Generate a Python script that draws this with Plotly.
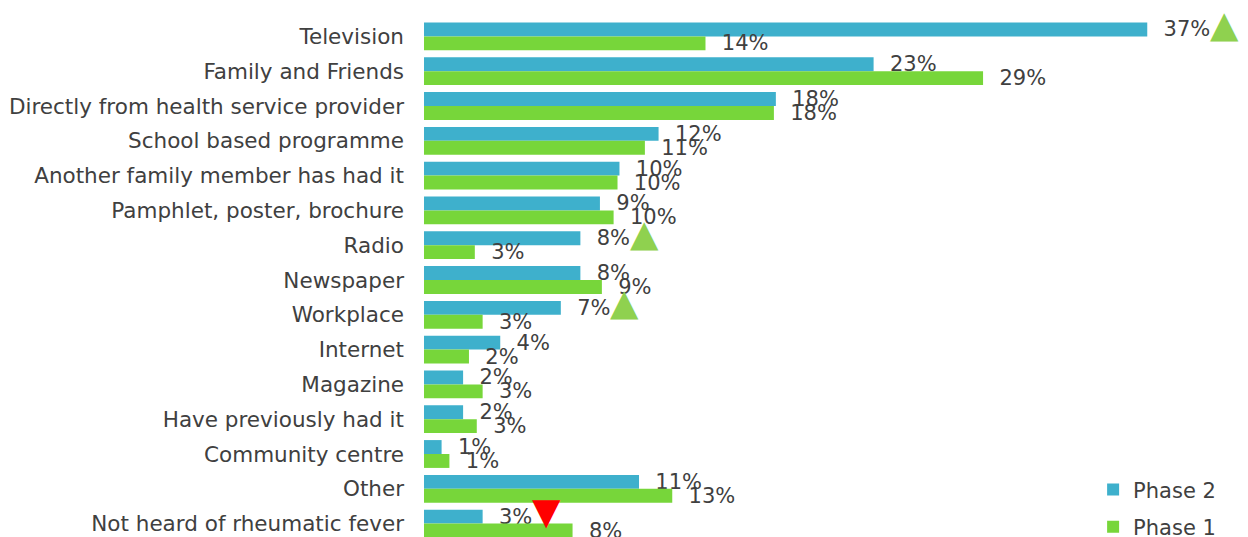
import plotly.graph_objects as go

# Sources of information about rheumatic fever, share of respondents (%)
categories = [
    "Television",
    "Family and Friends",
    "Directly from health service provider",
    "School based programme",
    "Another family member has had it",
    "Pamphlet, poster, brochure",
    "Radio",
    "Newspaper",
    "Workplace",
    "Internet",
    "Magazine",
    "Have previously had it",
    "Community centre",
    "Other",
    "Not heard of rheumatic fever",
]
phase2 = [37.0, 23.0, 18.0, 12.0, 10.0, 9.0, 8.0, 8.0, 7.0, 3.9, 2.0, 2.0, 0.9, 11.0, 3.0]
phase1 = [14.4, 28.6, 17.9, 11.3, 9.9, 9.7, 2.6, 9.1, 3.0, 2.3, 3.0, 2.7, 1.3, 12.7, 7.6]
# significant change from Phase 1 to Phase 2: 1 = increase, -1 = decrease
change = [1, 0, 0, 0, 0, 0, 1, 0, 1, 0, 0, 0, 0, 0, -1]

BLUE = "#3eb0cc"
GREEN = "#77d63a"
TEXT = "#404040"
FONT = "DejaVu Sans"
LABEL_SIZE = 21
ARROWS = {1: ("\u25b2", "#8fd14f"), -1: ("\u25bc", "#ff0000")}
PAD = "\u00a0\u00a0"  # gap between bar end and its value label


def label(value):
    return PAD + f"{round(value)}%"


def label_width(value):
    # approximate rendered width (px) of a value label in DejaVu Sans
    digits = len(str(round(value)))
    return LABEL_SIZE * (2 * 0.318 + digits * 0.636 + 0.95)


fig = go.Figure()
fig.add_trace(go.Bar(
    name="Phase 2", y=categories, x=phase2, orientation="h",
    marker=dict(color=BLUE, line=dict(width=0)),
    text=[label(v) for v in phase2],
    textposition="outside", constraintext="none", cliponaxis=False,
    textfont=dict(family=FONT, size=LABEL_SIZE, color=TEXT),
    legendgroup="p2",
))
fig.add_trace(go.Bar(
    name="Phase 1", y=categories, x=phase1, orientation="h",
    marker=dict(color=GREEN, line=dict(width=0)),
    text=[label(v) for v in phase1],
    textposition="outside", constraintext="none", cliponaxis=False,
    textfont=dict(family=FONT, size=LABEL_SIZE, color=TEXT),
    legendgroup="p1",
))

# change indicators placed just after the Phase 2 value label
for cat, v, c in zip(categories, phase2, change):
    if not c:
        continue
    glyph, colour = ARROWS[c]
    fig.add_annotation(
        x=v, y=cat, xref="x", yref="y",
        text=glyph, showarrow=False,
        xanchor="left", yanchor="middle",
        xshift=label_width(v) + 1, yshift=12,
        font=dict(family=FONT, size=37, color=colour),
    )

fig.update_layout(
    width=1248, height=537,
    margin=dict(l=424, r=3, t=19, b=0, pad=0, autoexpand=False),
    barmode="group", bargap=0.2, bargroupgap=0,
    plot_bgcolor="white", paper_bgcolor="white",
    font=dict(family=FONT, size=21, color=TEXT),
    showlegend=True,
    legend=dict(
        x=0.815, y=0.126, xanchor="left", yanchor="top", yref="container",
        traceorder="grouped", tracegroupgap=7,
        font=dict(family=FONT, size=21, color=TEXT),
        bgcolor="rgba(0,0,0,0)",
    ),
    xaxis=dict(range=[0, 42], visible=False, fixedrange=True),
    yaxis=dict(
        range=[14.385, -0.5], showgrid=False, zeroline=False, showline=False,
        ticks="", ticklabelstandoff=19, automargin=False,
        tickfont=dict(family=FONT, size=21.5, color=TEXT),
    ),
)

fig.write_html("out.html")
